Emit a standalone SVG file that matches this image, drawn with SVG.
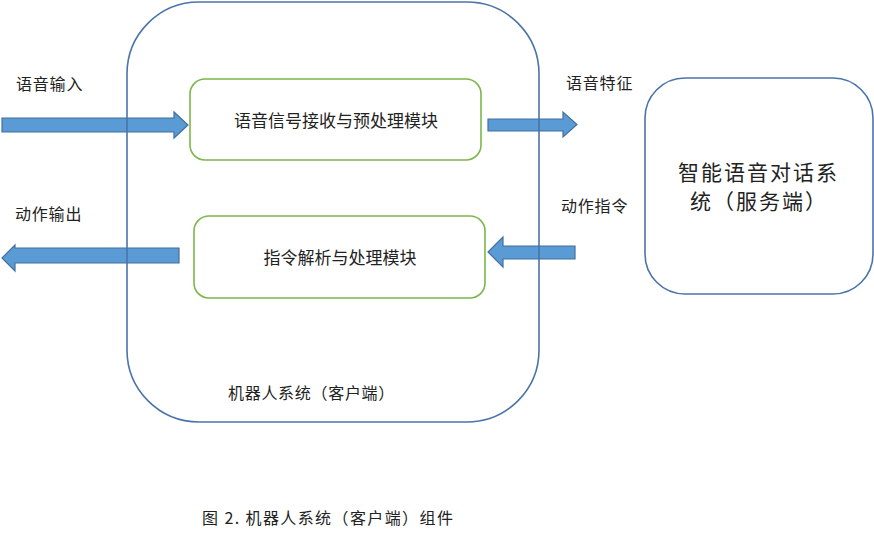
<svg xmlns="http://www.w3.org/2000/svg" width="874" height="540" viewBox="0 0 874 540">
<style>
.t{font-family:"Noto Sans CJK SC","Liberation Sans",sans-serif;fill:#222;}
.arr{fill:#5B9BD5;stroke:#41719C;stroke-width:1.2;}
.blue{fill:none;stroke:#4A74A8;stroke-width:1.6;}
.green{fill:#fff;stroke:#7CB74A;stroke-width:1.6;}
</style>
<rect width="874" height="540" fill="#fff"/>
<g id="connectors">
<polygon class="arr" points="2,118 174,118 174,112 188,125 174,138 174,132 2,132"/>
<polygon class="arr" points="179,248 15,248 15,245 2,258 15,271 15,263 179,263"/>
<polygon class="arr" points="488,119 563,119 563,112 577,124.5 563,137 563,131 488,131"/>
<polygon class="arr" points="575,246 503,246 503,237 488,252 503,267 503,259 575,259"/>
</g>
<g id="client">
<rect class="blue" x="127" y="2" width="412" height="420" rx="72" ry="72"/>
<text class="t" x="228" y="399" font-size="16" letter-spacing="0.7">机器人系统（客户端）</text>
</g>
<g id="recv">
<rect class="green" x="190" y="79" width="291" height="81" rx="15" ry="15"/>
<text class="t" x="336" y="127" font-size="17" text-anchor="middle">语音信号接收与预处理模块</text>
</g>
<g id="parse">
<rect class="green" x="194" y="216" width="291" height="82" rx="15" ry="15"/>
<text class="t" x="340" y="264" font-size="17" text-anchor="middle">指令解析与处理模块</text>
</g>
<g id="server">
<rect class="blue" x="645" y="78" width="228" height="216" rx="40" ry="40"/>
<text class="t" x="678" y="180" font-size="21" letter-spacing="2">智能语音对话系</text>
<text class="t" x="690" y="209" font-size="21" letter-spacing="2">统（服务端）</text>
</g>
<g id="labels">
<text class="t" x="16" y="90" font-size="16" letter-spacing="0.8">语音输入</text>
<text class="t" x="15" y="220" font-size="16" letter-spacing="0.8">动作输出</text>
<text class="t" x="566" y="89" font-size="16" letter-spacing="0.8">语音特征</text>
<text class="t" x="561" y="212" font-size="16" letter-spacing="0.8">动作指令</text>
<text class="t" x="202" y="524" font-size="16" letter-spacing="1.4">图 2. 机器人系统（客户端）组件</text>
</g>
</svg>
